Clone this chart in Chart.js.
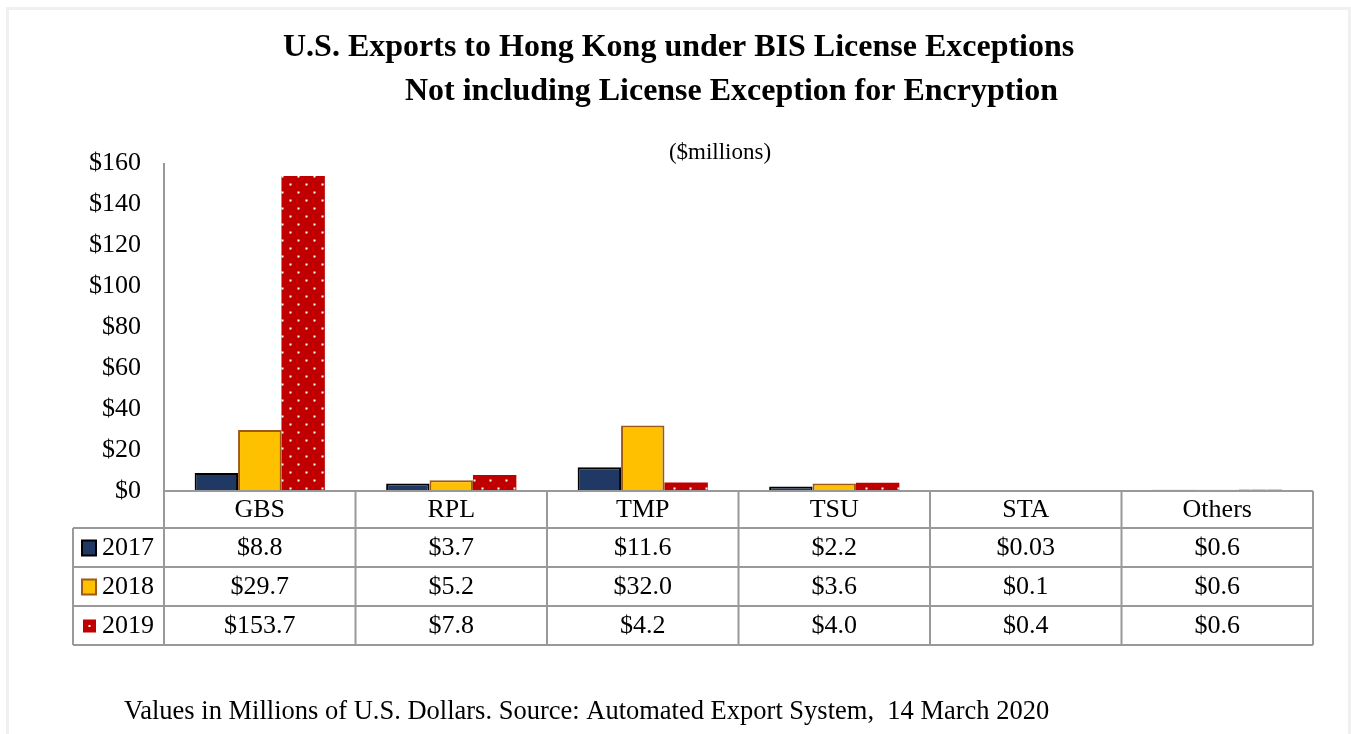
<!DOCTYPE html>
<html>
<head>
<meta charset="utf-8">
<script src="https://cdn.jsdelivr.net/npm/chart.js@4.4.1/dist/chart.umd.min.js"></script>
<style>
  html, body { margin: 0; padding: 0; background: #fff; }
  #moldura { position: absolute; left: 6px; top: 7px; width: 1345px; height: 740px; border: 3px solid #f0f0f0; box-sizing: border-box; }
  canvas { position: absolute; left: 0; top: 0; }
</style>
</head>
<body>
<div id="moldura"></div>
<canvas id="grafico" width="1351" height="734"></canvas>
<script>
const categorias = ['GBS', 'RPL', 'TMP', 'TSU', 'STA', 'Others'];
const anos = ['2017', '2018', '2019'];
const valores2017 = [8.8, 3.7, 11.6, 2.2, 0.03, 0.6];
const valores2018 = [29.7, 5.2, 32.0, 3.6, 0.1, 0.6];
const valores2019 = [153.7, 7.8, 4.2, 4.0, 0.4, 0.6];
const ticksY = [0, 20, 40, 60, 80, 100, 120, 140, 160];

const titulo1 = 'U.S. Exports to Hong Kong under BIS License Exceptions';
const titulo2 = 'Not including License Exception for Encryption';
const subtitulo = '($millions)';
const rodape = 'Values in Millions of U.S. Dollars. Source: Automated Export System,  14 March 2020';

const fonte = "'Liberation Serif', 'Times New Roman', serif";
const corLinha = '#999999';

function formatarValor(v) {
  return '$' + (v > 0 && v < 0.1 ? v.toFixed(2) : v.toFixed(1));
}

// padrao de pontos brancos sobre vermelho (2019)
function criarPadrao() {
  const c = document.createElement('canvas');
  c.width = 16; c.height = 16;
  const g = c.getContext('2d');
  g.fillStyle = '#C00000';
  g.fillRect(0, 0, 16, 16);
  g.fillStyle = '#ffffff';
  g.fillRect(1.5, 7.5, 2, 2);
  g.fillRect(9.5, 15.5, 2, 2);
  g.fillRect(9.5, -0.5, 2, 2);
  return g.createPattern(c, 'repeat');
}

const ctx = document.getElementById('grafico').getContext('2d');
const padrao = criarPadrao();

const series = [valores2017, valores2018, valores2019];
const estilos = [
  { fundo: '#1F3864', borda: '#000000', largura: 2 },
  { fundo: '#FFC000', borda: '#9C5A14', largura: 2 },
  { fundo: padrao, borda: '#C00000', largura: 0 }
];

const pluginTabela = {
  id: 'tabela',
  afterDraw(chart) {
    const c = chart.ctx;
    const x = chart.scales.x;
    const y = chart.scales.y;
    const base = y.getPixelForValue(0);
    const topo = y.getPixelForValue(160);
    const meio = (x.getPixelForValue(1) - x.getPixelForValue(0)) / 2;
    const bordas = categorias.map((cat, i) => x.getPixelForValue(i) - meio);
    bordas.push(x.getPixelForValue(categorias.length - 1) + meio);
    const esq = 73;
    const altCab = 37, altLinha = 39;
    const fim = base + altCab + altLinha * anos.length;

    c.save();
    c.strokeStyle = corLinha;
    c.lineWidth = 2;
    c.beginPath();
    // eixo y e eixo x
    c.moveTo(bordas[0], topo); c.lineTo(bordas[0], fim);
    c.moveTo(bordas[0], base); c.lineTo(bordas[bordas.length - 1], base);
    bordas.slice(1).forEach(b => { c.moveTo(b, base); c.lineTo(b, fim); });
    for (let r = 0; r <= anos.length; r++) {
      const yy = base + altCab + r * altLinha;
      c.moveTo(esq, yy); c.lineTo(bordas[bordas.length - 1], yy);
    }
    c.moveTo(esq, base + altCab); c.lineTo(esq, fim);
    c.stroke();

    c.fillStyle = '#000';
    c.textAlign = 'center';
    c.textBaseline = 'middle';
    c.font = '26px ' + fonte;
    categorias.forEach((cat, i) => {
      c.fillText(cat, x.getPixelForValue(i), base + altCab / 2 + 1);
    });
    series.forEach((vals, r) => {
      const yy = base + altCab + r * altLinha + altLinha / 2 + 1;
      vals.forEach((v, i) => c.fillText(formatarValor(v), x.getPixelForValue(i), yy));
      // chave da legenda
      const est = estilos[r];
      if (r < 2) {
        c.fillStyle = est.fundo;
        c.fillRect(82, yy - 8, 14, 15);
        c.strokeStyle = est.borda;
        c.lineWidth = 2;
        c.strokeRect(82, yy - 8, 14, 15);
      } else {
        c.fillStyle = '#C00000';
        c.fillRect(83, yy - 7, 13, 13);
        c.fillStyle = '#fff';
        c.fillRect(88.5, yy - 1.5, 2, 2);
      }
      c.fillStyle = '#000';
      c.textAlign = 'left';
      c.fillText(anos[r], 102, yy);
      c.textAlign = 'center';
    });

    // titulos
    c.font = 'bold 32px ' + fonte;
    c.textAlign = 'left';
    c.fillText(titulo1, 283, 48, 792);
    c.fillText(titulo2, 405, 92, 653);
    c.font = '23px ' + fonte;
    c.textAlign = 'center';
    c.fillText(subtitulo, 720, 153);
    c.font = '26.5px ' + fonte;
    c.textAlign = 'left';
    c.fillText(rodape, 124, 712, 928);
    c.restore();
  }
};

new Chart(ctx, {
  type: 'bar',
  data: {
    labels: categorias,
    datasets: series.map((vals, i) => ({
      label: anos[i],
      data: vals,
      backgroundColor: estilos[i].fundo,
      borderColor: estilos[i].borda,
      borderWidth: estilos[i].largura,
      borderSkipped: 'start',
      categoryPercentage: 0.68,
      barPercentage: 1.0
    }))
  },
  options: {
    responsive: false,
    animation: false,
    events: [],
    layout: { padding: { top: 163, right: 38, bottom: 243, left: 0 } },
    plugins: { legend: { display: false }, title: { display: false }, tooltip: { enabled: false } },
    scales: {
      x: { display: false },
      y: {
        min: 0,
        max: 160,
        afterFit(scale) { scale.width = 164; },
        afterBuildTicks(scale) { scale.ticks = ticksY.map(v => ({ value: v })); },
        grid: { display: false, drawTicks: false },
        border: { display: false },
        ticks: {
          padding: 23,
          color: '#000',
          font: { family: fonte, size: 26 },
          callback: v => '$' + v
        }
      }
    }
  },
  plugins: [pluginTabela]
});
</script>
</body>
</html>
